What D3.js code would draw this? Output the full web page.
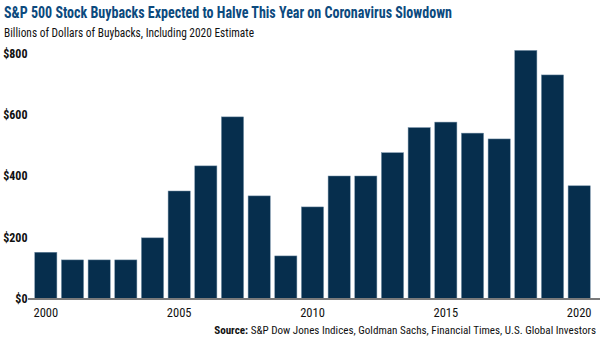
<!DOCTYPE html>
<html>
<head>
<meta charset="utf-8">
<script src="https://cdn.jsdelivr.net/npm/d3@7"></script>
<style>
  html, body { margin: 0; padding: 0; background: #fff; }
  svg { display: block; }
</style>
</head>
<body>
<svg id="chart" width="600" height="342"></svg>
<script>
// S&P 500 annual buybacks, billions of dollars (2020 is an estimate)
const years = [2000, 2001, 2002, 2003, 2004, 2005, 2006, 2007, 2008, 2009, 2010,
               2011, 2012, 2013, 2014, 2015, 2016, 2017, 2018, 2019, 2020];
const buybacks = [151, 126, 126, 126, 198, 351, 433, 593, 335, 139, 299,
                  400, 400, 476, 558, 576, 540, 521, 810, 730, 368];
const yTicks = [0, 200, 400, 600, 800];
const xTickYears = [2000, 2005, 2010, 2015, 2020];

const title = "S&P 500 Stock Buybacks Expected to Halve This Year on Coronavirus Slowdown";
const subtitle = "Billions of Dollars of Buybacks, Including 2020 Estimate";
const sourceLabel = "Source:";
const sourceText = " S&P Dow Jones Indices, Goldman Sachs, Financial Times, U.S. Global Investors";

const svg = d3.select("#chart");
const condensed = "'Liberation Sans Narrow', 'Roboto Condensed', 'DejaVu Sans Condensed', 'Arial Narrow', sans-serif";

const x = d3.scaleBand()
  .domain(years)
  .range([32.5, 592.5])
  .paddingInner(0.17)
  .paddingOuter(0.085);

const y = d3.scaleLinear()
  .domain([0, 800])
  .range([298.5, 53.5]);

// Shrink or grow a text's font size so it spans the given width
function fitWidth(sel, width) {
  const node = sel.node();
  const size = parseFloat(sel.attr("font-size"));
  const w = node.getComputedTextLength();
  if (w > 0) sel.attr("font-size", (size * width / w).toFixed(2));
}

// Title and subtitle
svg.append("text")
  .attr("x", 4).attr("y", 18)
  .attr("font-family", condensed)
  .attr("font-weight", "bold")
  .attr("font-size", 16)
  .attr("fill", "#0c4a7e")
  .attr("textLength", 448)
  .attr("lengthAdjust", "spacingAndGlyphs")
  .text(title);

svg.append("text")
  .attr("x", 4).attr("y", 37)
  .attr("font-family", condensed)
  .attr("font-size", 13)
  .attr("fill", "#111")
  .attr("textLength", 250)
  .attr("lengthAdjust", "spacingAndGlyphs")
  .text(subtitle);

// Bars
svg.append("g")
  .selectAll("rect")
  .data(years)
  .join("rect")
  .attr("x", d => x(d))
  .attr("width", x.bandwidth())
  .attr("y", (d, i) => y(buybacks[i]))
  .attr("height", (d, i) => y(0) - y(buybacks[i]))
  .attr("fill", "#062e4d")
  .attr("stroke", "#6d8aa2")
  .attr("stroke-width", 0.5);

// Y axis labels (no domain line), right-aligned beside the baseline tick
const yAxis = d3.axisLeft(y)
  .tickValues(yTicks)
  .tickSize(0)
  .tickPadding(0)
  .tickFormat(d => "$" + d);

const gy = svg.append("g")
  .attr("transform", "translate(27.5,0)")
  .call(yAxis);
gy.select(".domain").remove();
gy.selectAll("text")
  .attr("font-family", condensed)
  .attr("font-weight", "bold")
  .attr("font-size", 12)
  .attr("fill", "#111");

// Baseline
svg.append("line")
  .attr("x1", 28).attr("x2", 600)
  .attr("y1", y(0) + 0.5).attr("y2", y(0) + 0.5)
  .attr("stroke", "#7a7a7a")
  .attr("stroke-width", 2);

// X axis labels
const xAxis = d3.axisBottom(x)
  .tickValues(xTickYears)
  .tickSize(0)
  .tickPadding(0)
  .tickFormat(d3.format("d"));

const gx = svg.append("g")
  .attr("transform", "translate(0,308)")
  .call(xAxis);
gx.select(".domain").remove();
gx.selectAll("text")
  .attr("font-family", condensed)
  .attr("font-size", 12.5)
  .attr("fill", "#111");

// Source note
const src = svg.append("text")
  .attr("x", 596).attr("y", 334)
  .attr("text-anchor", "end")
  .attr("font-family", condensed)
  .attr("font-size", 11.5)
  .attr("fill", "#111");
src.append("tspan").attr("font-weight", "bold").text(sourceLabel);
src.append("tspan").text(sourceText);
fitWidth(src, 382);
</script>
</body>
</html>
